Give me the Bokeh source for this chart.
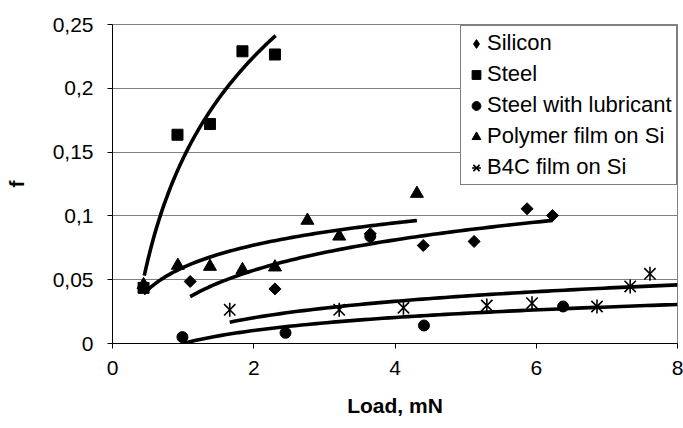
import numpy as np
from bokeh.plotting import figure
from bokeh.models import (Range1d, Legend, LegendItem, FixedTicker,
                          CustomJSTickFormatter)
from bokeh.embed import file_html
from bokeh.resources import INLINE

# ---- data ----
silicon_x = [1.10, 2.30, 3.65, 4.40, 5.12, 5.87, 6.23]
silicon_y = [0.0486, 0.0428, 0.086, 0.0768, 0.0800, 0.1056, 0.1003]

steel_x = [0.44, 0.92, 1.38, 1.84, 2.30]
steel_y = [0.0436, 0.1636, 0.1720, 0.2290, 0.2265]

lub_x = [0.99, 2.45, 3.65, 4.41, 6.38]
lub_y = [0.0050, 0.0084, 0.0840, 0.0141, 0.0290]

poly_x = [0.44, 0.925, 1.38, 1.84, 2.30, 2.76, 3.21, 4.31]
poly_y = [0.0460, 0.0611, 0.0603, 0.0577, 0.0598, 0.0964, 0.0840, 0.1175]

b4c_x = [1.66, 3.21, 4.12, 5.30, 5.94, 6.86, 7.33, 7.61]
b4c_y = [0.0264, 0.0264, 0.0280, 0.0298, 0.0316, 0.0290, 0.0447, 0.0546]

# logarithmic trendlines y = a*ln(x) + b
trend_names = ["Silicon", "Steel", "Steel with lubricant", "Polymer film on Si", "B4C film on Si"]
trend_a = [0.0344, 0.115, 0.0147, 0.0252, 0.0186]
trend_b = [0.0335, 0.145, 0.0000, 0.0596, 0.00727]
trend_x0 = [1.10, 0.45, 0.99, 0.44, 1.66]
trend_x1 = [6.23, 2.31, 8.00, 4.31, 8.00]

x_ticks = [0, 2, 4, 6, 8]
y_ticks = [0, 0.05, 0.10, 0.15, 0.20, 0.25]

FONT = "Liberation Sans"

p = figure(width=683, height=428, output_backend="svg", toolbar_location=None,
           x_range=Range1d(0, 8), y_range=Range1d(0, 0.25),
           min_border_left=112, min_border_right=6, min_border_top=24,
           min_border_bottom=85)
p.background_fill_color = "white"
p.border_fill_color = "white"
p.outline_line_color = "#808080"
p.outline_line_width = 1

p.xgrid.grid_line_color = None
p.ygrid.grid_line_color = "#808080"
p.ygrid.grid_line_width = 1

p.xaxis.ticker = FixedTicker(ticks=x_ticks)
p.yaxis.ticker = FixedTicker(ticks=y_ticks)
p.yaxis.formatter = CustomJSTickFormatter(
    code="return String(Math.round(tick*100)/100).replace('.', ',');")

for ax in (p.xaxis[0], p.yaxis[0]):
    ax.axis_line_color = "black"
    ax.axis_line_width = 1
    ax.major_tick_line_color = "black"
    ax.major_tick_out = 5
    ax.major_tick_in = 0
    ax.minor_tick_line_color = None
    ax.major_label_text_font = FONT
    ax.major_label_text_font_size = "21px"
    ax.major_label_text_color = "black"
    ax.axis_label_text_font = FONT
    ax.axis_label_text_font_size = "21px"
    ax.axis_label_text_font_style = "bold"
    ax.axis_label_text_color = "black"

p.xaxis.axis_label = "Load, mN"
p.yaxis.axis_label = "f"
p.xaxis.major_label_standoff = 12
p.yaxis.major_label_standoff = 14
p.xaxis.axis_label_standoff = 16
p.yaxis.axis_label_standoff = 22

# trendlines
for a, b, x0, x1 in zip(trend_a, trend_b, trend_x0, trend_x1):
    xs = np.linspace(x0, x1, 80)
    p.line(xs, a * np.log(xs) + b, line_color="black", line_width=3.6)

r_si = p.scatter(silicon_x, silicon_y, marker="square", angle=np.pi / 4, size=8.5,
                 fill_color="black", line_color="black")
# hidden copy used only as the legend swatch (legend swatches ignore angle)
r_si_key = p.scatter(silicon_x, silicon_y, marker="diamond", size=12,
                     fill_color="black", line_color="black", visible=False)
r_st = p.scatter(steel_x, steel_y, marker="square", size=11,
                 fill_color="black", line_color="black")
r_lu = p.scatter(lub_x, lub_y, marker="circle", size=11,
                 fill_color="black", line_color="black")
r_po = p.scatter(poly_x, poly_y, marker="triangle", size=13,
                 fill_color="black", line_color="black")
r_b1 = p.scatter(b4c_x, b4c_y, marker="x", size=16, line_color="black", line_width=1.6)
r_b2 = p.scatter(b4c_x, b4c_y, marker="dash", angle=np.pi / 2, size=14,
                 line_color="black", line_width=1.6)

legend = Legend(items=[
    LegendItem(label="Silicon", renderers=[r_si_key]),
    LegendItem(label="Steel", renderers=[r_st]),
    LegendItem(label="Steel with lubricant", renderers=[r_lu]),
    LegendItem(label="Polymer film on Si", renderers=[r_po]),
    LegendItem(label="B4C film on Si", renderers=[r_b1, r_b2]),
], location=(348, 158))
legend.label_text_font = FONT
legend.label_text_font_size = "22px"
legend.label_text_color = "black"
legend.border_line_color = "black"
legend.border_line_width = 1
legend.background_fill_color = "white"
legend.background_fill_alpha = 1
legend.inactive_fill_alpha = 0
legend.padding = 4
legend.spacing = 5
legend.margin = 0
legend.glyph_width = 22
legend.glyph_height = 25
legend.label_height = 25
legend.label_standoff = 0
p.add_layout(legend)

open("out.html", "w").write(file_html(p, INLINE))
